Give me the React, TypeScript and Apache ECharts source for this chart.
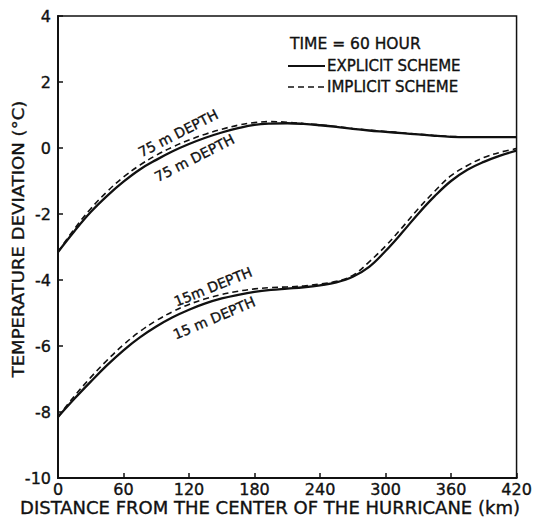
import React, { useEffect, useRef } from "react";
import * as echarts from "echarts";

const distances = [0, 15, 30, 45, 60, 75, 90, 105, 120, 135, 150, 165, 180, 195, 210, 225, 240, 255, 270, 285, 300, 315, 330, 345, 360, 375, 390, 405, 420];

const explicit75 = [-3.15, -2.52, -1.94, -1.45, -1.02, -0.65, -0.36, -0.1, 0.12, 0.31, 0.47, 0.6, 0.7, 0.74, 0.75, 0.73, 0.69, 0.64, 0.58, 0.53, 0.49, 0.45, 0.41, 0.37, 0.34, 0.33, 0.33, 0.33, 0.33];
const implicit75 = [-3.15, -2.45, -1.84, -1.32, -0.88, -0.52, -0.22, 0.03, 0.24, 0.42, 0.57, 0.69, 0.77, 0.8, 0.78, 0.74, 0.7, 0.65, 0.59, 0.54, 0.5, 0.46, 0.42, 0.38, 0.35, 0.34, 0.34, 0.34, 0.34];
const explicit15 = [-8.15, -7.6, -7.08, -6.58, -6.13, -5.74, -5.41, -5.13, -4.9, -4.71, -4.56, -4.45, -4.36, -4.3, -4.26, -4.22, -4.16, -4.07, -3.9, -3.6, -3.12, -2.57, -1.99, -1.46, -1.0, -0.66, -0.42, -0.23, -0.08];
const implicit15 = [-8.15, -7.52, -6.95, -6.43, -5.96, -5.56, -5.23, -4.96, -4.74, -4.57, -4.44, -4.34, -4.27, -4.23, -4.21, -4.18, -4.12, -4.04, -3.86, -3.45, -2.97, -2.42, -1.84, -1.31, -0.84, -0.53, -0.29, -0.13, -0.02];

const xMin = 0;
const xMax = 420;
const xInterval = 60;
const yMin = -10;
const yMax = 4;
const yInterval = 2;

const curveLabels = [
  { text: "75 m DEPTH", x: 110, y: 0.45, angle: 27 },
  { text: "75 m DEPTH", x: 125, y: -0.3, angle: 27 },
  { text: "15m DEPTH", x: 142, y: -4.2, angle: 22 },
  { text: "15 m DEPTH", x: 143, y: -5.15, angle: 23 },
];

const legendTitle = "TIME = 60 HOUR";
const explicitName = "EXPLICIT SCHEME";
const implicitName = "IMPLICIT SCHEME";
const xTitle = "DISTANCE FROM THE CENTER OF THE HURRICANE (km)";
const yTitle = "TEMPERATURE DEVIATION (°C)";

const INK = "#111";
const FONT = "DejaVu Sans";

function pairs(vals: number[]) {
  return distances.map((d, i) => [d, vals[i]]);
}

export default function App() {
  const ref = useRef<HTMLDivElement>(null);
  useEffect(() => {
    if (!ref.current) return;
    const chart = echarts.init(ref.current, undefined, { renderer: "svg" });
    const solid = { color: INK, width: 2.3, type: "solid" as const };
    const dashed = { color: INK, width: 1.6, type: [6, 4] as any };
    const bold = { stroke: INK, lineWidth: 0.35 };
    chart.setOption({
      animation: false,
      backgroundColor: "#fff",
      grid: { left: 58, right: 16, top: 16, bottom: 39, show: true, borderColor: INK, borderWidth: 1.5, backgroundColor: "transparent" },
      xAxis: {
        type: "value", min: xMin, max: xMax, interval: xInterval,
        axisLine: { show: true, onZero: false, lineStyle: { color: INK, width: 2 } },
        axisTick: { show: true, inside: true, length: 5, lineStyle: { color: INK, width: 1.5 } },
        axisLabel: { color: INK, fontSize: 16, fontFamily: FONT, margin: 3, textBorderColor: INK, textBorderWidth: 0.35 },
        splitLine: { show: false },
      },
      yAxis: {
        type: "value", min: yMin, max: yMax, interval: yInterval,
        axisLine: { show: true, onZero: false, lineStyle: { color: INK, width: 2 } },
        axisTick: { show: true, inside: true, length: 5, lineStyle: { color: INK, width: 1.5 } },
        axisLabel: { color: INK, fontSize: 16, fontFamily: FONT, margin: 7, textBorderColor: INK, textBorderWidth: 0.35 },
        splitLine: { show: false },
      },
      series: [
        { type: "line", data: pairs(explicit75), smooth: 0.4, showSymbol: false, lineStyle: solid },
        { type: "line", data: pairs(implicit75), smooth: 0.4, showSymbol: false, lineStyle: dashed },
        { type: "line", data: pairs(explicit15), smooth: 0.4, showSymbol: false, lineStyle: solid },
        { type: "line", data: pairs(implicit15), smooth: 0.4, showSymbol: false, lineStyle: dashed },
      ],
    });
    const labelEls = curveLabels.map((l) => {
      const p = chart.convertToPixel({ gridIndex: 0 }, [l.x, l.y]) as number[];
      return {
        type: "text", x: p[0], y: p[1], rotation: (l.angle * Math.PI) / 180,
        style: { text: l.text, fill: INK, ...bold, font: `14px ${FONT}`, textAlign: "center", textVerticalAlign: "middle" },
      };
    });
    chart.setOption({
      graphic: [
        ...labelEls,
        { type: "text", x: 290, y: 44, style: { text: legendTitle, fill: INK, ...bold, font: `15.5px ${FONT}`, textAlign: "left", textVerticalAlign: "middle" } },
        { type: "line", shape: { x1: 288, y1: 66, x2: 325, y2: 66 }, style: { stroke: INK, lineWidth: 2.2 } },
        { type: "text", x: 327, y: 66, style: { text: explicitName, fill: INK, ...bold, font: `15px ${FONT}`, textAlign: "left", textVerticalAlign: "middle" } },
        { type: "line", shape: { x1: 288, y1: 87, x2: 325, y2: 87 }, style: { stroke: INK, lineWidth: 1.3, lineDash: [6, 4] } },
        { type: "text", x: 327, y: 87, style: { text: implicitName, fill: INK, ...bold, font: `15px ${FONT}`, textAlign: "left", textVerticalAlign: "middle" } },
        { type: "text", x: 270, y: 508, scaleX: 1.06, style: { text: xTitle, fill: INK, ...bold, font: `17px ${FONT}`, textAlign: "center", textVerticalAlign: "middle" } },
        { type: "text", x: 18, y: 239, rotation: Math.PI / 2, scaleX: 1.13, style: { text: yTitle, fill: INK, ...bold, font: `16px ${FONT}`, textAlign: "center", textVerticalAlign: "middle" } },
      ],
    });
    return () => chart.dispose();
  }, []);
  return <div ref={ref} style={{ width: 535, height: 517, position: "absolute", left: 0, top: 0 }} />;
}
